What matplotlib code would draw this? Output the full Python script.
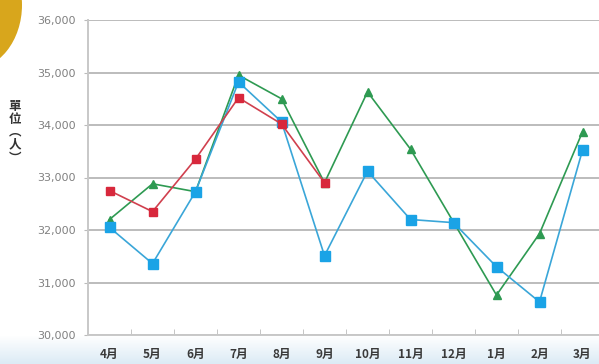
import matplotlib
matplotlib.use("Agg")
import matplotlib.pyplot as plt
import numpy as np
from matplotlib.patches import Ellipse

# months shown on the x axis
months = ["4月", "5月", "6月", "7月", "8月", "9月", "10月", "11月", "12月", "1月", "2月", "3月"]

# three yearly series (values in persons)
red_vals = [32750, 32350, 33350, 34520, 34020, 32900]
green_vals = [32200, 32880, 32730, 34950, 34500, 32900, 34630, 33540, 32150, 30760, 31930, 33870]
blue_vals = [32050, 31360, 32730, 34820, 34060, 31510, 33120, 32200, 32140, 31300, 30630, 33520]

y_ticks = [30000, 31000, 32000, 33000, 34000, 35000, 36000]

W, H = 599, 364
fig = plt.figure(figsize=(W / 100, H / 100), dpi=100)

# light blue band at the bottom of the picture
bg = fig.add_axes([0, 0, 1, 1], zorder=-10)
grad = np.ones((H, 1))
grad[335:, 0] = np.linspace(1, 0, H - 335)
cmap = matplotlib.colors.LinearSegmentedColormap.from_list("bg", ["#dcebf5", "#ffffff"])
bg.imshow(grad, aspect="auto", cmap=cmap, extent=[0, 1, 0, 1], vmin=0, vmax=1)
bg.axis("off")

# yellow disc peeking in at the top left corner
fig.patches.append(Ellipse((-30 / W, 1 - 5 / H), 104 / W, 130 / H, transform=fig.transFigure,
                           facecolor="#d8a61c", edgecolor="none"))

left, top, bottom = 88, 20, 335
ax = fig.add_axes([left / W, 1 - bottom / H, (W - left) / W, (bottom - top) / H])
ax.set_facecolor("none")

x = np.arange(len(months))
ax.plot(x, green_vals, color="#2e9a52", lw=1.2, marker="^", ms=5.5, zorder=3)
ax.plot(x, blue_vals, color="#3aa6d8", lw=1.2, marker="s", ms=6.5,
        mfc="#1aa3e6", mec="#1aa3e6", zorder=4)
ax.plot(x[:len(red_vals)], red_vals, color="#d0404e", lw=1.2, marker="s", ms=5.5,
        mfc="#d8283c", mec="#d8283c", zorder=5)

ax.set_ylim(30000, 36000)
ax.set_xlim(-0.5, -0.5 + (W - left) / 43.0)
ax.set_yticks(y_ticks)
ax.set_yticklabels([f"{v:,}" for v in y_ticks], color="#808080", fontsize=8)
ax.yaxis.grid(True, color="#bcbcbc", lw=1.4)
ax.set_axisbelow(True)

ax.set_xticks(x)
ax.set_xticklabels(months, color="#3a3a3a", fontsize=8.5, fontweight="bold",
                   family=["Noto Sans CJK TC", "DejaVu Sans"])
ax.tick_params(axis="x", length=0, pad=9)
ax.set_xticks(np.arange(0.5, 11.5, 1), minor=True)
ax.tick_params(axis="x", which="minor", direction="in", length=4, color="#bbbbbb")
ax.tick_params(axis="y", length=3, color="#bbbbbb", pad=6)

for s in ["top", "right"]:
    ax.spines[s].set_visible(False)
for s in ["left", "bottom"]:
    ax.spines[s].set_color("#c8c8c8")
    ax.spines[s].set_linewidth(1.4)

fig.text(15 / W, 1 - 132 / H, "單\n位\n︵\n人\n︶", ha="center", va="center",
         fontsize=9, color="#333333", linespacing=1.0, fontweight="bold",
         family=["Noto Sans CJK TC", "DejaVu Sans"])

fig.savefig("out.png", dpi=100)
